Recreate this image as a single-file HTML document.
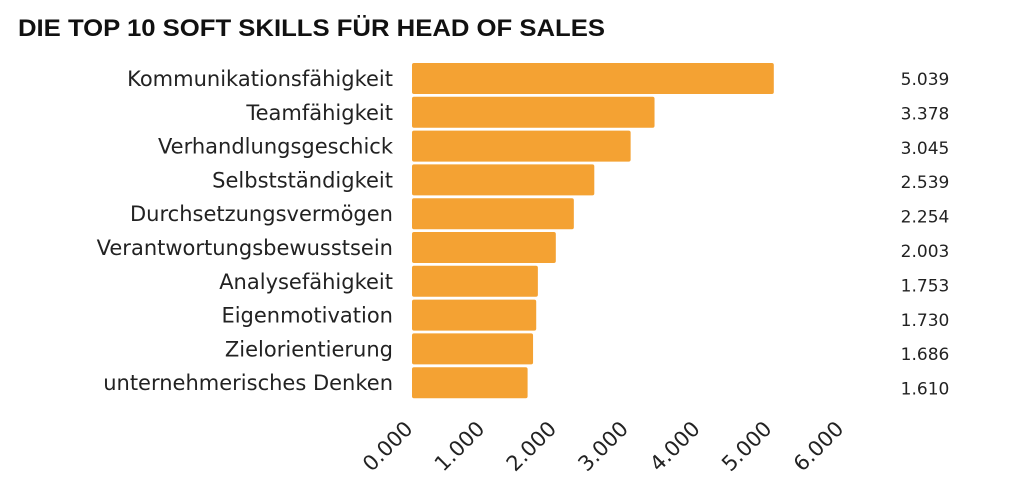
<!DOCTYPE html>
<html><head><meta charset="utf-8"><style>body{margin:0;background:#fff}svg{display:block}</style></head>
<body>
<svg id="chart" width="1014" height="489" viewBox="0 0 1014 489" xmlns="http://www.w3.org/2000/svg">
<text x="18" y="36" font-family="Liberation Sans, sans-serif" font-weight="bold" font-size="24" textLength="587" lengthAdjust="spacingAndGlyphs" fill="#111">DIE TOP 10 SOFT SKILLS FÜR HEAD OF SALES</text>
<g id="bars"></g><g id="labels"></g><g id="values"></g><g id="ticks"></g>
</svg>
<script>
const categories=["Kommunikationsfähigkeit","Teamfähigkeit","Verhandlungsgeschick","Selbstständigkeit","Durchsetzungsvermögen","Verantwortungsbewusstsein","Analysefähigkeit","Eigenmotivation","Zielorientierung","unternehmerisches Denken"];
const values=[5039,3378,3045,2539,2254,2003,1753,1730,1686,1610];
const valueLabels=["5.039","3.378","3.045","2.539","2.254","2.003","1.753","1.730","1.686","1.610"];
const tickValues=[0,1000,2000,3000,4000,5000,6000];
const tickLabels=["0.000","1.000","2.000","3.000","4.000","5.000","6.000"];
const NS="http://www.w3.org/2000/svg";
const x=v=>412+v*0.0718;
const y=i=>63+i*33.8;
const mk=(t,a,p)=>{const e=document.createElementNS(NS,t);for(const k in a)e.setAttribute(k,a[k]);document.getElementById(p).appendChild(e);return e;};
values.forEach((v,i)=>{
  const r=mk("rect",{x:412,y:y(i),width:x(v)-412,height:31,rx:2,fill:"#F4A233"},"bars");
  
  
  const l=mk("text",{x:393,y:y(i)+23,"text-anchor":"end","font-family":"DejaVu Sans, sans-serif","font-size":"21",fill:"#222"},"labels");
  l.textContent=categories[i];
  
  
  const t=mk("text",{x:925,y:85+i*34.4,"text-anchor":"middle","font-family":"DejaVu Sans, sans-serif","font-size":"17",fill:"#222"},"values");
  t.textContent=valueLabels[i];
  
  
});
tickValues.forEach((v,i)=>{
  const px=x(v)+2, py=430;
  const t=mk("text",{x:px,y:py,"text-anchor":"end","font-family":"DejaVu Sans, sans-serif","font-size":"21",fill:"#222",transform:`rotate(-45 ${px} ${py})`},"ticks");
  t.textContent=tickLabels[i];
  
  
});
</script>
</body></html>
